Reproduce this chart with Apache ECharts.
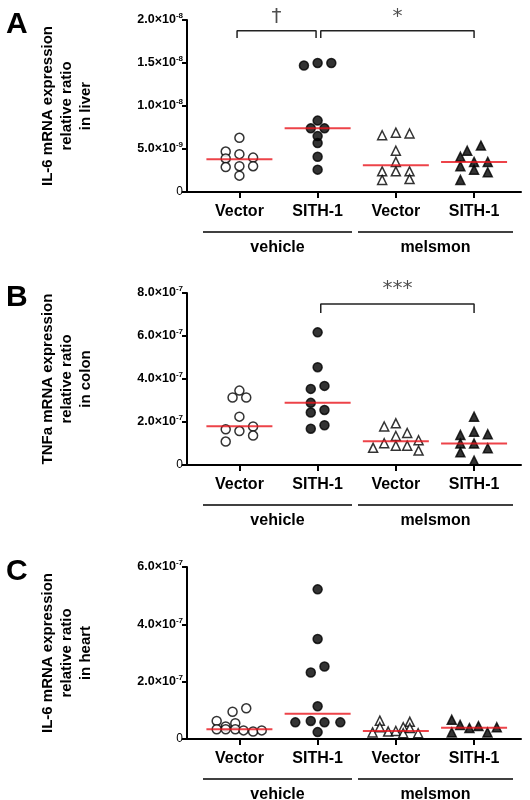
<!DOCTYPE html>
<html><head><meta charset="utf-8">
<script src="https://cdn.jsdelivr.net/npm/echarts@6/dist/echarts.min.js"></script>
<style>html,body{margin:0;background:#fff}#c{width:530px;height:800px}</style>
</head><body><div id="c"></div>
<script>
// group labels and categories
var categories = ['Vector', 'SITH-1', 'Vector', 'SITH-1'];
var groups = ['vehicle', 'melsmon'];

// points: [column offset, value]; A in 1e-9, B and C in 1e-7
var aVecVeh = [[-1,4.7],[-1,3.9],[-1,2.9],[0,6.3],[0,4.4],[0,3.0],[0,1.9],[1,4.0],[1,3.0]];
var aSithVeh = [[-1,14.7],[0,15.0],[1,15.0],[0,8.3],[-0.5,7.4],[0.5,7.4],[0,6.5],[0,5.7],[0,4.1],[0,2.6]];
var aVecMel = [[-1,6.6],[0,6.9],[1,6.8],[0,4.8],[0,3.5],[-1,2.4],[0,2.4],[1,2.4],[-1,1.4],[1,1.5]];
var aSithMel = [[-0.5,4.8],[0.5,5.4],[-1,4.1],[-1,3.0],[0,3.5],[1,3.5],[0,2.6],[1,2.3],[-1,1.4]];
var aMedian = [3.8, 7.4, 3.1, 3.5];

var bVecVeh = [[0,3.46],[-0.5,3.14],[0.5,3.14],[0,2.25],[1,1.79],[-1,1.66],[0,1.58],[1,1.37],[-1,1.09]];
var bSithVeh = [[0,6.17],[0,4.55],[0.5,3.68],[-0.5,3.54],[-0.5,2.89],[-0.5,2.44],[0.5,2.56],[0.5,1.85],[-0.5,1.69]];
var bVecMel = [[-0.85,1.79],[0,1.94],[0,1.35],[0.83,1.49],[1.66,1.15],[-0.85,1.01],[0,0.90],[0.83,0.90],[-1.66,0.80],[1.66,0.67]];
var bSithMel = [[0,2.25],[0,1.55],[1,1.43],[-1,1.40],[-1,1.0],[0,1.0],[1,0.78],[-1,0.59],[0,0.2]];
var bMedian = [1.8, 2.89, 1.1, 1.0];

var cVecVeh = [[-0.5,0.95],[0.5,1.07],[-1.66,0.63],[-0.3,0.55],[-1,0.44],[-1.66,0.34],[-1,0.34],[-0.3,0.34],[0.3,0.30],[1,0.26],[1.63,0.30]];
var cSithVeh = [[0,5.22],[0,3.49],[0.5,2.53],[-0.5,2.32],[0,1.14],[-1.63,0.58],[-0.5,0.63],[0.5,0.58],[1.66,0.58],[0,0.24]];
var cVecMel = [[-1.17,0.64],[1.02,0.60],[-1.17,0.41],[-1.7,0.23],[-0.56,0.26],[0,0.28],[0.54,0.41],[0.54,0.20],[1.02,0.38],[1.63,0.20]];
var cSithMel = [[-1.63,0.67],[-1.02,0.49],[-0.34,0.38],[0.32,0.45],[0.98,0.23],[1.66,0.41],[-1.63,0.23]];
var cMedian = [0.34, 0.88, 0.28, 0.39];

var yTitles = ['IL-6 mRNA expression\nrelative ratio\nin liver',
               'TNFa mRNA expression\nrelative ratio\nin colon',
               'IL-6 mRNA expression\nrelative ratio\nin heart'];
var panelLetters = ['A', 'B', 'C'];

var panels = [
  {scale:1e-9, max:2e-8, interval:5e-9, pts:[aVecVeh,aSithVeh,aVecMel,aSithMel], med:aMedian,
   brackets:[{from:0.97, to:1.98, y:18.75e-9, leg:17.9e-9, text:'†', ty:20.4e-9},
             {from:2.04, to:4, y:18.75e-9, leg:17.9e-9, text:'*', ty:20.4e-9}]},
  {scale:1e-7, max:8e-7, interval:2e-7, pts:[bVecVeh,bSithVeh,bVecMel,bSithMel], med:bMedian,
   brackets:[{from:2.04, to:4, y:7.49e-7, leg:7.07e-7, text:'***', ty:8.2e-7}]},
  {scale:1e-7, max:6e-7, interval:2e-7, pts:[cVecVeh,cSithVeh,cVecMel,cSithMel], med:cMedian, brackets:[]}
];
var tops = [20, 293, 567];
var symbols = [
  {symbol:'circle', fill:'#fff'}, {symbol:'circle', fill:'#000'},
  {symbol:'triangle', fill:'#fff'}, {symbol:'triangle', fill:'#000'}
];
var jitter = 0.175;

var sup = function (v) {
  if (v === 0) return '0';
  var e = Math.floor(Math.log10(v) + 1e-9);
  var m = (v / Math.pow(10, e)).toFixed(1);
  return '{a|' + m + '×10}{s|' + e + '}';
};

var grid = [], xAxis = [], yAxis = [], series = [], graphic = [];
panels.forEach(function (p, i) {
  grid.push({left:187, right:9, top:tops[i], height:172});
  xAxis.push({type:'value', gridIndex:i, min:0.33, max:4.6,
    axisLine:{lineStyle:{color:'#000', width:2}},
    axisTick:{customValues:[1,2,3,4], length:6, lineStyle:{color:'#000', width:2}},
    axisLabel:{customValues:[1,2,3,4], margin:12, color:'#000', fontWeight:'bold', fontSize:16,
      fontFamily:'Liberation Sans', formatter:function (v) { return categories[Math.round(v) - 1]; }},
    splitLine:{show:false}});
  yAxis.push({type:'value', gridIndex:i, min:0, max:p.max, interval:p.interval,
    name:yTitles[i], nameLocation:'middle', nameGap:92, nameRotate:90,
    nameTextStyle:{color:'#000', fontWeight:'bold', fontSize:15, fontFamily:'Liberation Sans', lineHeight:19},
    axisLine:{show:true, lineStyle:{color:'#000', width:2}},
    axisTick:{show:true, length:5, lineStyle:{color:'#000', width:2}},
    axisLabel:{formatter:sup, margin:4, color:'#000',
      rich:{a:{fontWeight:'bold', fontSize:12.5, fontFamily:'Liberation Sans', color:'#000'},
            s:{fontWeight:'bold', fontSize:8, fontFamily:'Liberation Sans', color:'#000', verticalAlign:'top', padding:[0,0,8,0]}}},
    splitLine:{show:false}});
  p.pts.forEach(function (arr, g) {
    series.push({type:'scatter', xAxisIndex:i, yAxisIndex:i, symbol:symbols[g].symbol, symbolSize:9,
      itemStyle:{color:symbols[g].fill, borderColor:'#000', borderWidth:1.5},
      data:arr.map(function (d) { return [g + 1 + d[0] * jitter, d[1] * p.scale]; }), z:3});
  });
  series.push({type:'scatter', xAxisIndex:i, yAxisIndex:i, symbol:'rect', symbolSize:[66,2],
    itemStyle:{color:'#e8141c'}, data:p.med.map(function (v, g) { return [g + 1, v * p.scale]; }), z:4});
  p.brackets.forEach(function (b) {
    series.push({type:'line', xAxisIndex:i, yAxisIndex:i, symbol:'none', clip:false,
      lineStyle:{color:'#222', width:1.5},
      data:[[b.from, b.leg], [b.from, b.y], [b.to, b.y], [b.to, b.leg]]});
    series.push({type:'scatter', xAxisIndex:i, yAxisIndex:i, symbolSize:0, clip:false,
      label:{show:true, position:'inside', formatter:b.text, color:'#222', fontSize:20, fontFamily:'DejaVu Sans'},
      data:[[(b.from + b.to) / 2, b.ty]]});
  });
  var base = tops[i] + 172;
  graphic.push({type:'text', left:6, top:tops[i] - 10,
    style:{text:panelLetters[i], font:'bold 30px Liberation Sans', fill:'#000'}});
  [[203, 352], [358, 513]].forEach(function (r, k) {
    graphic.push({type:'line', shape:{x1:r[0], y1:base + 40, x2:r[1], y2:base + 40}, style:{stroke:'#000', lineWidth:1.5}});
    graphic.push({type:'text', x:(r[0] + r[1]) / 2, y:base + 56,
      style:{text:groups[k], font:'bold 16px Liberation Sans', fill:'#000', align:'center', verticalAlign:'middle'}});
  });
});

var chart = echarts.init(document.getElementById('c'));
chart.setOption({backgroundColor:'#fff', animation:false, grid:grid, xAxis:xAxis, yAxis:yAxis, series:series, graphic:graphic});
</script></body></html>
